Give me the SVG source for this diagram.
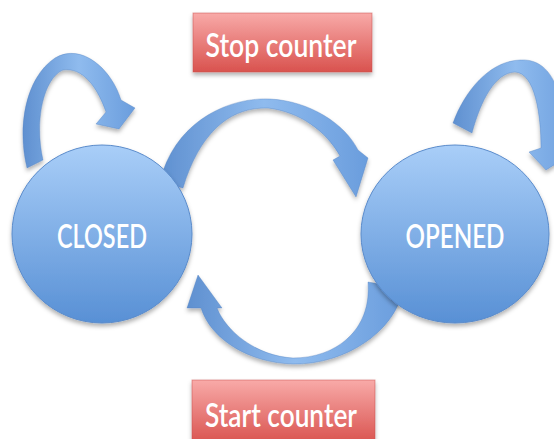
<svg xmlns="http://www.w3.org/2000/svg" width="554" height="439" viewBox="0 0 554 439">
<defs>
<linearGradient id="gCircle" x1="0" y1="0" x2="0" y2="1">
<stop offset="0" stop-color="#a9cef8"/>
<stop offset="1" stop-color="#5890d5"/>
</linearGradient>
<linearGradient id="gArrowH" x1="0" y1="0" x2="1" y2="0">
<stop offset="0" stop-color="#5f90d0"/>
<stop offset="0.5" stop-color="#8fbbee"/>
<stop offset="1" stop-color="#6a9ddd"/>
</linearGradient>
<linearGradient id="gBox" x1="0" y1="0" x2="0" y2="1">
<stop offset="0" stop-color="#f8aaa8"/>
<stop offset="1" stop-color="#d9524e"/>
</linearGradient>
<filter id="shadow" x="-20%" y="-20%" width="140%" height="140%">
<feDropShadow dx="0" dy="3" stdDeviation="2" flood-color="#000" flood-opacity="0.3"/>
</filter>
</defs>
<style>
.arrow{fill:url(#gArrowH);stroke:#4f7fbf;stroke-width:0.6;stroke-opacity:0.6;filter:url(#shadow)}
.node{fill:url(#gCircle);stroke:#5a8bcb;stroke-width:1;filter:url(#shadow)}
.box{fill:url(#gBox);stroke:#c8504c;stroke-width:1;stroke-opacity:0.5;filter:url(#shadow)}
.lbl{font-family:Lato,"Open Sans","Liberation Sans",sans-serif;font-weight:600;fill:#ffffff;font-size:32px;text-anchor:middle}
</style>
<rect width="554" height="439" fill="#ffffff"/>
<g id="connectors">
<path class="arrow" d="M27,168 C17,128 25,78 55,58 C82,42 112,70 121,100 L135,108 L119,129 L96,124 L106,112 C97,86 82,67 63,70 C44,78 34,120 43,160 Z"/>
<path class="arrow" d="M160,182 C174,122 228,97 270,99 C310,101 345,124 358,150 L368,158 L356,197 L333,160 L340,156 C326,131 300,112 268,108 C230,107 200,132 183,188 Z"/>
<path class="arrow" d="M403,288 C397,330 346,365 293,364 C250,363 211,340 201,308 L187,308 L198,275 L222,308 L217,308 C226,331 256,356 293,358 C336,358 372,330 368,282 Z"/>
<path class="arrow" d="M453,123 C465,90 490,61 520,60 C548,58 560,85 564,120 L578,150 L546,170 L529,152 L541,148 C541,115 535,73 515,72 C495,73 481,100 472,133 Z"/>
</g>
<g id="closed">
<ellipse class="node" cx="102" cy="234" rx="90" ry="89"/>
<text class="lbl" x="102" y="248" textLength="90" lengthAdjust="spacingAndGlyphs">CLOSED</text>
</g>
<g id="opened">
<ellipse class="node" cx="455" cy="234" rx="94" ry="89"/>
<text class="lbl" x="455" y="248" textLength="99" lengthAdjust="spacingAndGlyphs">OPENED</text>
</g>
<g id="stop-counter">
<rect class="box" x="193" y="13" width="179" height="59"/>
<text class="lbl" x="281" y="57" textLength="151" lengthAdjust="spacingAndGlyphs">Stop counter</text>
</g>
<g id="start-counter">
<rect class="box" x="192" y="380" width="183" height="64"/>
<text class="lbl" x="281" y="427" textLength="152" lengthAdjust="spacingAndGlyphs">Start counter</text>
</g>
</svg>
